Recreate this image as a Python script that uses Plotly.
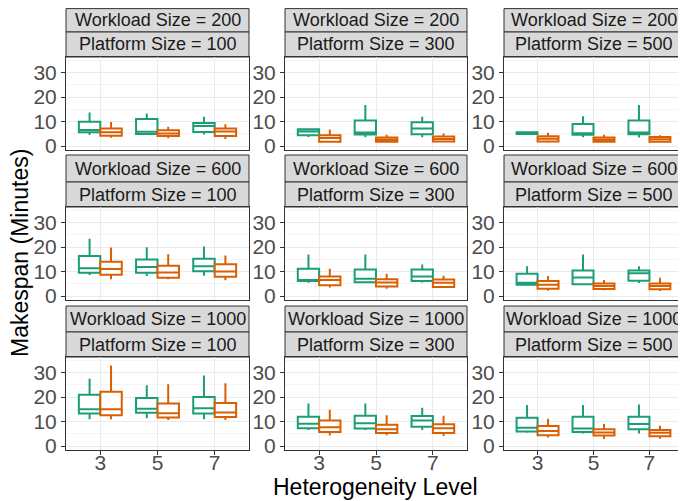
import plotly.graph_objects as go

# facets
workload_sizes = [200, 600, 1000]
platform_sizes = [100, 300, 500]
levels = ["3", "5", "7"]

# box stats per panel (row-major: workload x platform), each a list over levels
green_lo = [[4.5, 4.5, 4.7], [3.7, 3.6, 3.6], [4.7, 3.6, 3.5],
            [8.6, 8.2, 8.3], [5.4, 5.4, 5.5], [4.5, 4.8, 5.3],
            [10.9, 11.3, 10.9], [6.6, 6.6, 6.6], [5.4, 5.1, 5.1]]
green_q1 = [[5.6, 4.9, 5.7], [4.4, 4.7, 4.8], [4.9, 4.6, 4.8],
            [9.5, 9.5, 10.1], [6.1, 5.6, 6.1], [4.6, 4.8, 6.2],
            [13.3, 13.6, 13.3], [7.3, 7.2, 7.9], [5.9, 5.7, 6.9]]
green_med = [[6.5, 5.8, 8.2], [5.9, 5.5, 7.2], [5.2, 5.2, 5.5],
             [11.3, 11.8, 12.2], [6.6, 7.1, 8.0], [5.4, 7.6, 9.3],
             [15.0, 15.2, 15.4], [9.1, 9.3, 10.4], [7.5, 7.2, 9.0]]
green_q3 = [[9.9, 11.0, 9.4], [6.9, 10.4, 9.7], [5.6, 9.0, 10.4],
            [16.3, 14.9, 15.2], [11.1, 10.8, 10.8], [9.1, 10.4, 10.4],
            [20.9, 19.6, 20.0], [11.9, 12.4, 12.3], [11.5, 12.0, 11.9]]
green_hi = [[13.7, 13.3, 12.0], [6.9, 16.7, 12.0], [5.8, 12.2, 16.7],
            [23.4, 19.9, 20.2], [16.9, 16.9, 12.9], [12.2, 16.9, 12.2],
            [27.4, 24.8, 28.8], [17.3, 17.3, 15.6], [16.7, 16.7, 16.9]]

orange_lo = [[3.4, 3.2, 2.9], [1.8, 1.8, 1.5], [1.4, 1.8, 1.8],
             [6.9, 6.9, 6.4], [3.5, 3.0, 3.3], [2.2, 2.4, 2.1],
             [10.9, 10.6, 10.6], [4.3, 4.4, 4.1], [3.5, 2.9, 3.0]]
orange_q1 = [[4.2, 4.1, 4.1], [1.8, 1.8, 1.9], [1.9, 1.8, 1.8],
             [8.7, 7.5, 7.9], [4.4, 3.9, 3.7], [3.0, 2.9, 2.8],
             [12.6, 11.6, 11.8], [5.7, 5.3, 5.3], [4.4, 4.3, 4.0]]
orange_med = [[5.6, 5.1, 5.9], [3.3, 2.6, 2.9], [3.0, 2.6, 2.8],
              [11.0, 9.6, 10.0], [6.6, 5.5, 5.4], [4.6, 4.1, 4.1],
              [15.0, 13.4, 13.7], [7.7, 6.9, 7.3], [6.1, 5.5, 5.4]]
orange_q3 = [[7.2, 6.4, 7.2], [4.4, 3.5, 3.9], [4.0, 3.5, 3.7],
             [14.0, 12.4, 13.0], [8.0, 6.9, 6.8], [6.1, 5.1, 5.1],
             [22.1, 17.4, 17.6], [10.4, 8.7, 8.9], [8.2, 6.9, 6.6]]
orange_hi = [[9.8, 7.9, 8.9], [6.8, 4.6, 5.1], [5.4, 4.6, 4.4],
             [19.8, 17.0, 16.5], [11.1, 9.1, 8.3], [8.2, 6.6, 7.5],
             [32.8, 25.2, 25.6], [14.8, 12.6, 12.4], [11.1, 9.0, 8.3]]

GREEN = "#1b9e77"
ORANGE = "#d95f02"

# the page body has an 8px margin, so the figure is drawn 8px in from the corner
OFF = 8
W, H = 686 - OFF, 501 - OFF

# panel geometry in window pixels
col_x = [(66, 249), (285, 467), (504, 683)]
row_y = [(8.6, 32, 57, 150), (155, 182, 207, 300), (306, 332, 357, 450)]


def px(x):
    return (x - OFF) / W


def py(y):
    return 1 - (y - OFF) / H


fig = go.Figure()
shapes = []
annotations = []
font = "Liberation Sans, Arial, sans-serif"

for r, wl in enumerate(workload_sizes):
    for c, pl in enumerate(platform_sizes):
        i = r * 3 + c
        n = "" if i == 0 else str(i + 1)
        xa, ya = "x" + n, "y" + n
        for name, col, lo, q1, med, q3, hi in [
            ("A", GREEN, green_lo, green_q1, green_med, green_q3, green_hi),
            ("B", ORANGE, orange_lo, orange_q1, orange_med, orange_q3, orange_hi),
        ]:
            fig.add_trace(go.Box(
                x=levels, q1=q1[i], median=med[i], q3=q3[i],
                lowerfence=lo[i], upperfence=hi[i],
                name=name, offsetgroup=name,
                marker_color=col, line=dict(color=col, width=2),
                fillcolor="rgba(255,255,255,0.85)",
                whiskerwidth=0, boxpoints=False, showlegend=False,
                xaxis=xa, yaxis=ya,
            ))

        x0, x1 = col_x[c]
        s0, s1, p0, p1 = row_y[r]
        fig.layout["xaxis" + n] = dict(
            domain=[px(x0), px(x1)], anchor=ya, type="category",
            categoryorder="array", categoryarray=levels,
            range=[-0.6, 2.6], showgrid=True, gridcolor="#ebebeb",
            showline=True, mirror=True, linecolor="#333333", linewidth=1,
            showticklabels=(r == 2), ticks="outside" if r == 2 else "",
            ticklen=4, tickcolor="#333333", ticklabelstandoff=-10,
            tickfont=dict(size=21, color="#4d4d4d", family=font),
            zeroline=False, automargin=False, fixedrange=True,
        )
        fig.layout["yaxis" + n] = dict(
            domain=[py(p1), py(p0)], anchor=xa, range=[-1.6, 36.3],
            tickvals=[0, 10, 20, 30], showgrid=True, gridcolor="#ebebeb",
            minor=dict(tickvals=[5, 15, 25, 35], showgrid=True,
                       gridcolor="#f4f4f4", ticks=""),
            showline=True, mirror=True, linecolor="#333333", linewidth=1,
            ticks="outside", ticklen=4, tickcolor="#333333",
            tickfont=dict(size=21, color="#4d4d4d", family=font),
            zeroline=False, automargin=False, fixedrange=True,
        )

        # strips
        for (t0, t1), label in [((s0, s1), f"Workload Size = {wl}"),
                                ((s1, p0), f"Platform Size = {pl}")]:
            shapes.append(dict(type="rect", xref="paper", yref="paper",
                               x0=px(x0), x1=px(x1), y0=py(t1), y1=py(t0),
                               fillcolor="#d9d9d9",
                               line=dict(color="#333333", width=1),
                               layer="below"))
            annotations.append(dict(text=label, xref="paper", yref="paper",
                                    x=px((x0 + x1) / 2), y=py((t0 + t1) / 2),
                                    xanchor="center", yanchor="middle",
                                    showarrow=False,
                                    font=dict(size=18, color="#1a1a1a", family=font)))

annotations.append(dict(text="Heterogeneity Level", xref="paper", yref="paper",
                        x=px(375), y=py(487), xanchor="center", yanchor="middle",
                        showarrow=False,
                        font=dict(size=23, color="black", family=font)))
annotations.append(dict(text="Makespan (Minutes)", xref="paper", yref="paper",
                        x=px(20), y=py(253), xanchor="center", yanchor="middle",
                        showarrow=False, textangle=-90,
                        font=dict(size=23, color="black", family=font)))

fig.update_layout(
    width=W, height=H, margin=dict(l=0, r=0, t=0, b=0),
    paper_bgcolor="white", plot_bgcolor="white",
    boxmode="group", boxgap=0.25, boxgroupgap=0,
    shapes=shapes, annotations=annotations, showlegend=False,
    font=dict(family=font),
)

fig.write_html("out.html")
